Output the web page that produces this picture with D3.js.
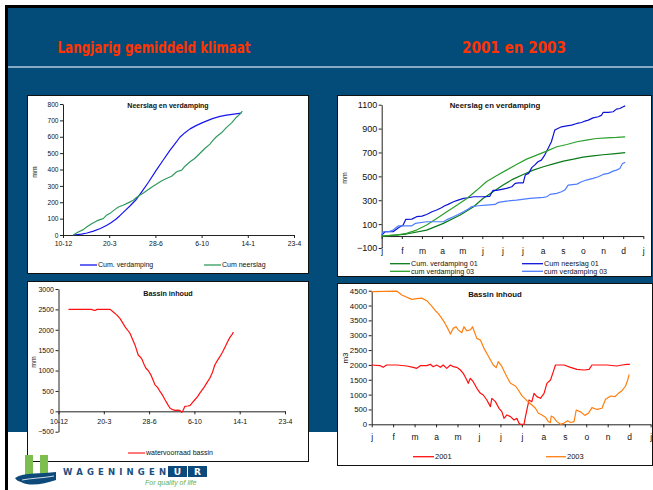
<!DOCTYPE html>
<html><head><meta charset="utf-8">
<script src="https://cdn.jsdelivr.net/npm/d3@7"></script>
<style>
body{margin:0;background:#fff}
svg{display:block}
text{font-family:"Liberation Sans",Arial,sans-serif}
</style>
</head><body>
<svg id="slide" width="653" height="490"></svg>
<script>
// ---- Long-term average climate (x = days after 10 December) ----
const longTicks = [0, 100, 200, 300, 400, 500];
const longTickLabels = ["10-12", "20-3", "28-6", "6-10", "14-1", "23-4"];
const cumVerdamping = [[22,0],[40,5],[52,12],[66,24],[81,40],[95,60],[103,73],[115,98],[123,118],[135,150],[146,180],[157,212],[170,262],[185,322],[202,396],[217,458],[231,515],[243,560],[253,597],[264,625],[275,648],[288,668],[302,686],[314,700],[325,712],[340,724],[354,732],[370,738],[386,744]];
const cumNeerslag = [[22,0],[33,18],[44,33],[51,49],[62,69],[73,86],[80,94],[87,100],[94,120],[103,135],[112,155],[120,171],[130,182],[141,196],[152,212],[159,229],[166,243],[174,257],[184,277],[195,298],[202,310],[213,330],[224,345],[235,359],[246,386],[257,396],[264,420],[275,447],[285,467],[296,498],[307,528],[318,555],[325,579],[332,600],[343,624],[354,657],[365,685],[375,718],[383,738],[388,757]];
const bassinLang = [[22,2500],[60,2500],[73,2500],[77,2480],[81,2475],[85,2500],[114,2500],[121,2435],[129,2360],[136,2273],[147,2070],[152,2000],[158,1908],[163,1780],[169,1623],[176,1380],[180,1340],[184,1282],[189,1150],[193,1055],[198,1000],[204,893],[209,760],[213,649],[219,580],[224,487],[230,390],[235,284],[241,170],[246,81],[252,40],[257,24],[263,30],[267,24],[270,0],[272,-24],[275,20],[279,122],[285,130],[290,138],[296,220],[301,284],[307,360],[312,446],[318,540],[322,600],[327,690],[334,812],[340,960],[345,1136],[351,1250],[357,1355],[362,1450],[368,1583],[373,1700],[379,1826],[383,1880],[386,1948]];

// ---- 2001 and 2003 (x = day index, one tick per 30 days) ----
const monthTicks = [0,30,60,90,120,150,180,210,240,270,300,330,360,390];
const monthLabels = ["j","f","m","a","m","j","j","j","a","s","o","n","d","j"];
const verdamping01 = [[0,0],[37,17],[67,50],[92,106],[117,176],[137,246],[151,315],[166,371],[181,427],[196,477],[211,516],[226,552],[241,580],[256,605],[271,628],[286,644],[300,661],[315,672],[330,681],[345,689],[363,698]];
const neerslag01 = [[0,8],[5,36],[17,36],[25,70],[32,92],[36,140],[45,142],[52,162],[60,167],[67,181],[75,204],[82,218],[89,237],[94,254],[99,265],[107,287],[114,301],[122,315],[129,321],[137,329],[151,329],[161,332],[164,365],[166,382],[171,382],[179,391],[186,399],[194,413],[199,441],[204,446],[211,446],[214,511],[219,525],[224,575],[228,594],[233,622],[238,636],[243,678],[248,734],[253,790],[258,887],[261,896],[268,915],[276,923],[283,929],[291,943],[298,951],[303,963],[308,971],[315,990],[323,999],[328,1013],[330,1035],[338,1035],[345,1041],[350,1063],[355,1068],[360,1083],[363,1090]];
const verdamping03 = [[0,0],[22,8],[37,22],[52,50],[67,92],[82,148],[97,204],[112,259],[127,315],[142,385],[156,455],[171,505],[186,552],[201,600],[216,644],[231,678],[246,711],[261,748],[276,767],[291,790],[305,803],[320,817],[335,823],[350,826],[363,831]];
const neerslag03 = [[0,8],[2,36],[10,36],[17,50],[25,86],[45,86],[50,106],[67,120],[92,120],[99,142],[107,162],[114,181],[122,204],[129,226],[134,246],[144,254],[156,259],[169,265],[174,282],[186,293],[201,301],[221,315],[241,324],[246,329],[251,349],[261,357],[268,371],[273,385],[278,427],[291,435],[298,455],[305,469],[315,483],[323,497],[330,516],[338,525],[345,544],[350,552],[355,566],[359,608],[363,617]];
const bassin2001 = [[0,1997],[12,1975],[16,1919],[21,1997],[35,1997],[49,1964],[58,1919],[63,1885],[68,1975],[77,1975],[82,2020],[86,1941],[91,1997],[96,1919],[100,1997],[105,1885],[110,1997],[114,1941],[119,1919],[124,1829],[128,1717],[133,1492],[135,1380],[138,1548],[142,1436],[147,1212],[152,1043],[156,987],[161,819],[166,595],[168,875],[173,763],[178,539],[182,426],[185,202],[189,314],[194,258],[199,146],[203,202],[206,34],[208,0],[213,0],[215,258],[220,819],[224,763],[227,1043],[231,931],[236,875],[241,1043],[245,1380],[250,1492],[254,1773],[257,1997],[269,1997],[278,1919],[287,1851],[297,1829],[304,1851],[308,1997],[315,1997],[329,1997],[343,1963],[350,1997],[357,2020],[361,2020]];
const bassin2003 = [[0,4466],[35,4488],[42,4354],[56,4208],[63,4230],[70,4250],[77,4163],[84,3983],[89,3826],[93,3736],[98,3568],[102,3422],[107,3198],[110,3040],[114,3231],[118,3287],[121,3180],[126,3085],[129,3287],[133,3150],[138,3180],[141,3287],[147,2895],[152,2839],[157,2558],[163,2300],[170,1997],[174,1907],[177,2109],[182,1950],[189,1604],[194,1380],[201,1290],[205,1156],[210,965],[217,797],[224,651],[229,539],[233,370],[238,314],[243,236],[247,90],[250,60],[251,280],[254,240],[259,90],[264,0],[268,30],[274,123],[278,60],[283,90],[286,482],[292,420],[298,300],[303,370],[308,560],[315,500],[322,540],[327,842],[334,954],[340,930],[345,1043],[350,1133],[355,1290],[358,1492],[360,1683]];

const svg = d3.select("#slide");

// slide background and frame
svg.append("rect").attr("x",0).attr("y",0).attr("width",653).attr("height",490).attr("fill","#fff");
svg.append("rect").attr("x",8).attr("y",8).attr("width",645).attr("height",424).attr("fill","#034c79");
svg.append("rect").attr("x",5).attr("y",5).attr("width",648).attr("height",3).attr("fill","#000");
svg.append("rect").attr("x",5).attr("y",5).attr("width",3).attr("height",485).attr("fill","#000");
svg.append("rect").attr("x",8).attr("y",66).attr("width",645).attr("height",2).attr("fill","#86a9c4");

const headFont = "'Liberation Sans Narrow','DejaVu Sans Condensed',sans-serif";
svg.append("text").attr("x",57.5).attr("y",52.5).attr("fill","#ff3300")
  .style("font-family",headFont).style("font-weight","bold").style("font-size","15px")
  .attr("textLength",193).attr("lengthAdjust","spacingAndGlyphs").text("Langjarig gemiddeld klimaat");
svg.append("text").attr("x",462).attr("y",52.5).attr("fill","#ff3300")
  .style("font-family",headFont).style("font-weight","bold").style("font-size","15px")
  .attr("textLength",104).attr("lengthAdjust","spacingAndGlyphs").text("2001  en  2003");

const plain = d3.format("d");

function drawPanel(o) {
  const g = svg.append("g");
  g.append("rect").attr("x",o.box[0]+0.5).attr("y",o.box[1]+0.5)
    .attr("width",o.box[2]-o.box[0]).attr("height",o.box[3]-o.box[1])
    .attr("fill","#fff").attr("stroke","#111").attr("stroke-width",1);

  const x = d3.scaleLinear().domain(o.xDomain).range(o.xRange);
  const y = d3.scaleLinear().domain(o.yDomain).range(o.yRange);

  const ya = g.append("g").attr("transform",`translate(${o.xRange[0]},0)`)
    .call(d3.axisLeft(y).tickValues(o.yTicks).tickFormat(plain).tickSize(3).tickSizeOuter(0).tickPadding(1.5));
  ya.selectAll("text").style("font-size",o.yFont+"px");

  const xa = g.append("g").attr("transform",`translate(0,${y(0)})`)
    .call(d3.axisBottom(x).tickValues(o.xTicks).tickFormat((d,i)=>o.xLabels[i])
      .tickSize(3).tickSizeOuter(0).tickPadding(o.xPad));
  xa.selectAll("text").style("font-size",o.xFont+"px");

  [ya, xa].forEach(a => {
    a.attr("color","#111").attr("font-family",null);
    a.selectAll("path,line").attr("stroke","#222");
  });

  const line = d3.line().x(d=>x(d[0])).y(d=>y(d[1]));
  o.series.forEach(s => {
    g.append("path").datum(s.data).attr("d",line)
      .attr("fill","none").attr("stroke",s.color).attr("stroke-width",s.width || 1.2)
      .attr("stroke-linejoin","round");
  });

  g.append("text").attr("x",o.title[0]).attr("y",o.title[1]).attr("text-anchor","middle")
    .attr("dy","0.35em").style("font-size",o.titleFont+"px").style("font-weight","bold")
    .attr("fill","#111").text(o.titleText);

  g.append("text").attr("transform",`translate(${o.unit[0]},${o.unit[1]}) rotate(-90)`)
    .attr("text-anchor","middle").attr("dy","0.35em").style("font-size",o.unitFont+"px")
    .attr("fill","#111").text(o.unitText);

  o.legend.forEach(l => {
    g.append("line").attr("x1",l.x1).attr("x2",l.x2).attr("y1",l.y).attr("y2",l.y)
      .attr("stroke",l.color).attr("stroke-width",1.3);
    g.append("text").attr("x",l.x2+1).attr("y",l.y).attr("dy","0.35em")
      .style("font-size",o.legendFont+"px").attr("fill","#111").text(l.label);
  });
}

// top-left: cumulative precipitation and evaporation, long-term average
drawPanel({
  box:[27,95,308,273],
  xDomain:[0,500], xRange:[63,294], yDomain:[0,800], yRange:[235,104],
  yTicks:d3.range(0,801,100), xTicks:longTicks, xLabels:longTickLabels,
  yFont:6.6, xFont:6.8, xPad:3.5,
  series:[{data:cumVerdamping,color:"#1515f0"},{data:cumNeerslag,color:"#2e9a5e"}],
  title:[168,106], titleText:"Neerslag en verdamping", titleFont:7,
  unit:[35,172], unitText:"mm", unitFont:6.8,
  legendFont:7,
  legend:[{x1:80,x2:97,y:265,color:"#1515f0",label:"Cum. verdamping"},
          {x1:204,x2:221,y:265,color:"#2e9a5e",label:"Cum neerslag"}]
});

// top-right: 2001 and 2003 cumulative sums
drawPanel({
  box:[337,95,651,276],
  xDomain:[0,390], xRange:[381.7,643.3], yDomain:[-100,1100], yRange:[248,104.7],
  yTicks:d3.range(-100,1101,200), xTicks:monthTicks, xLabels:monthLabels,
  yFont:9, xFont:8.5, xPad:9,
  series:[{data:verdamping01,color:"#0a7a1a"},{data:neerslag01,color:"#0b14d8"},
          {data:verdamping03,color:"#2aa02a"},{data:neerslag03,color:"#4d7cff"}],
  title:[495,105.5], titleText:"Neerslag en verdamping", titleFont:7.8,
  unit:[345,178], unitText:"mm", unitFont:7,
  legendFont:7.2,
  legend:[{x1:390,x2:410,y:263.7,color:"#0a7a1a",label:"Cum. verdamping 01"},
          {x1:522,x2:543,y:263.7,color:"#0b14d8",label:"Cum neerslag 01"},
          {x1:390,x2:410,y:271.3,color:"#2aa02a",label:"cum verdamping 03"},
          {x1:522,x2:543,y:271.3,color:"#4d7cff",label:"cum verdamping 03"}]
});

// bottom-left: basin storage, long-term average
drawPanel({
  box:[27,281,308,461],
  xDomain:[0,500], xRange:[58.5,285], yDomain:[-500,3000], yRange:[431.7,289],
  yTicks:d3.range(-500,3001,500), xTicks:longTicks, xLabels:longTickLabels,
  yFont:7, xFont:7, xPad:4.5,
  series:[{data:bassinLang,color:"#ff1010"}],
  title:[168,293], titleText:"Bassin inhoud", titleFont:7.2,
  unit:[34,362], unitText:"mm", unitFont:7,
  legendFont:7,
  legend:[{x1:128,x2:145,y:453,color:"#ff3030",label:"watervoorraad bassin"}]
});

// bottom-right: basin storage 2001 and 2003
drawPanel({
  box:[337,283,652,465],
  xDomain:[0,390], xRange:[371.7,650.6], yDomain:[0,4500], yRange:[424.3,290.7],
  yTicks:d3.range(0,4501,500), xTicks:monthTicks, xLabels:monthLabels,
  yFont:7.8, xFont:8.5, xPad:7,
  series:[{data:bassin2001,color:"#ff0f0f"},{data:bassin2003,color:"#ff7f10"}],
  title:[495,294.5], titleText:"Bassin inhoud", titleFont:7.8,
  unit:[345,358], unitText:"m3", unitFont:8,
  legendFont:7.5,
  legend:[{x1:413,x2:434,y:456.7,color:"#ff0f0f",label:"2001"},
          {x1:546,x2:566,y:456.7,color:"#ff7f10",label:"2003"}]
});

// institute logo
const logo = svg.append("g");
logo.append("rect").attr("x",25).attr("y",455).attr("width",8).attr("height",20).attr("fill","#7cbf4e");
logo.append("rect").attr("x",40).attr("y",455).attr("width",8).attr("height",20).attr("fill","#7cbf4e");
logo.append("path").attr("d","M15,478 C24,472 42,474 56,472 L56,480 C44,484 30,487 21,482 C18,481 16,480 15,478 Z").attr("fill","#0d4a7a");
logo.append("path").attr("d","M22,480 C32,478 44,478 54,476").attr("stroke","#fff").attr("stroke-width",0.8).attr("fill","none");
logo.append("text").attr("x",63).attr("y",475).style("font-family","'DejaVu Sans',sans-serif")
  .style("font-weight","bold").style("font-size","8.5px").attr("fill","#1b4f80")
  .attr("textLength",103).attr("lengthAdjust","spacing").text("WAGENINGEN");
logo.append("rect").attr("x",168).attr("y",466).attr("width",19).attr("height",11).attr("fill","#0d4a7c");
logo.append("rect").attr("x",188).attr("y",466).attr("width",19).attr("height",11).attr("fill","#0d4a7c");
logo.append("text").attr("x",177.5).attr("y",475).attr("text-anchor","middle").style("font-family","'DejaVu Sans',sans-serif")
  .style("font-weight","bold").style("font-size","9px").attr("fill","#fff").text("U");
logo.append("text").attr("x",197.5).attr("y",475).attr("text-anchor","middle").style("font-family","'DejaVu Sans',sans-serif")
  .style("font-weight","bold").style("font-size","9px").attr("fill","#fff").text("R");
logo.append("text").attr("x",145).attr("y",484.5).style("font-style","italic").style("font-size","7px")
  .attr("fill","#68ad4a").text("For quality of life");
</script>
</body></html>
